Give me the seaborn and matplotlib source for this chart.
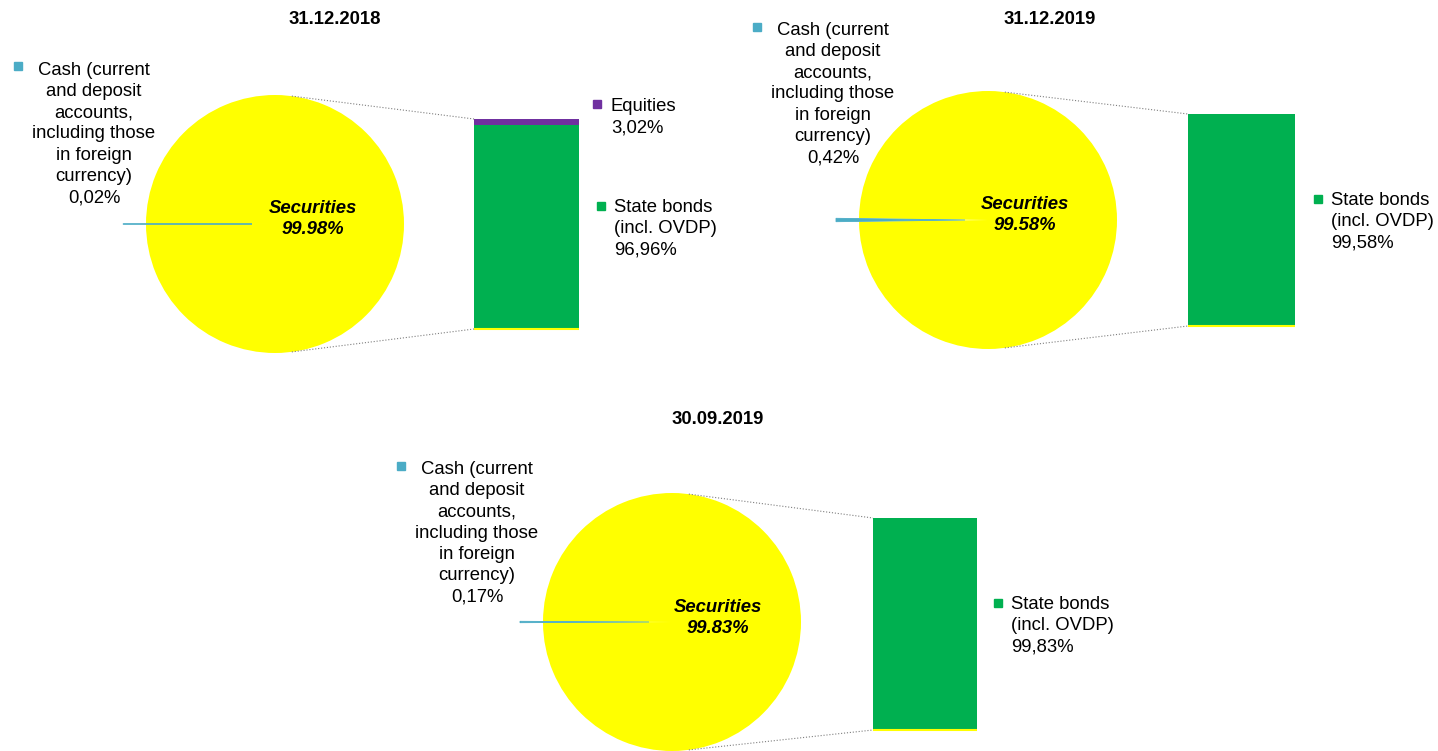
import numpy as np
import matplotlib
matplotlib.use("Agg")
import matplotlib.pyplot as plt
import seaborn as sns

sns.set_theme(style="white")
plt.rcParams['font.family'] = ['Liberation Sans', 'DejaVu Sans']
plt.rcParams['text.color'] = 'black'

# data
dates = ["31.12.2018", "31.12.2019", "30.09.2019"]
cash = [0.02, 0.42, 0.17]
securities = [99.98, 99.58, 99.83]
state_bonds = [96.96, 99.58, 99.83]
equities = [3.02, 0.0, 0.0]

cash_label = "Cash (current\nand deposit\naccounts,\nincluding those\nin foreign\ncurrency)"
bonds_label = "State bonds\n(incl. OVDP)"
equities_label = "Equities"

c_yellow = "#FFFF00"
c_cash = "#4BACC6"
c_bonds = "#00B050"
c_equities = "#7030A0"

# layout (pixel coords, y going down)
layout = [
    dict(title=(335, 20), pie=(275, 224), bar=(474, 579, 119, 329),
         cash_mk=(18, 66), cash_txt=(94, 134), sec=(313, 219),
         bonds_mk=(601, 206), eq_mk=(597, 104)),
    dict(title=(1050, 20), pie=(988, 220), bar=(1188, 1295, 114, 326),
         cash_mk=(757, 27), cash_txt=(833, 94), sec=(1025, 215),
         bonds_mk=(1318, 199), eq_mk=None),
    dict(title=(718, 420), pie=(672, 622), bar=(873, 977, 518, 730),
         cash_mk=(401, 466), cash_txt=(477, 533), sec=(718, 618),
         bonds_mk=(998, 603), eq_mk=None),
]
R = 129
FS = 13.3
LS = 1.33


def pct(v):
    return f"{v:.2f}%".replace(".", ",")


fig = plt.figure(figsize=(14.38, 7.51), dpi=100)
ax = fig.add_axes([0, 0, 1, 1])

for i, lay in enumerate(layout):
    cx, cy = lay["pie"]
    tot = securities[i] + cash[i]
    sec_ang = securities[i] / tot * 360
    cash_ang = cash[i] / tot * 360
    start = 180 - sec_ang - cash_ang / 2
    # explode is in data units here (pixels)
    wedges, _ = ax.pie([securities[i], cash[i]], colors=[c_yellow, c_cash],
                       center=(cx, cy), radius=R, startangle=start,
                       explode=[0, 23], frame=True,
                       wedgeprops=dict(linewidth=0))
    wedges[1].set_edgecolor(c_cash)
    wedges[1].set_linewidth(0.6)

    # title
    tx, ty = lay["title"]
    ax.text(tx, ty, dates[i], ha="center", va="center", fontsize=FS, fontweight="bold")

    # label inside pie
    sx, sy = lay["sec"]
    ax.text(sx, sy, f"Securities\n{securities[i]:.2f}%", ha="center", va="center",
            fontsize=FS, fontweight="bold", fontstyle="italic", linespacing=LS)

    # stacked bar
    x0, x1, ytop, ybot = lay["bar"]
    scale = (ybot - ytop) / (state_bonds[i] + equities[i])
    ax.bar((x0 + x1) / 2, -state_bonds[i] * scale, bottom=ybot, width=x1 - x0,
           color=c_bonds, linewidth=0)
    if equities[i] > 0:
        ax.bar((x0 + x1) / 2, -equities[i] * scale, bottom=ybot - state_bonds[i] * scale,
               width=x1 - x0, color=c_equities, linewidth=0)
    ax.plot([x0, x1], [ybot, ybot], color=c_yellow, lw=1.5, solid_capstyle="butt")

    # connector lines
    a = np.deg2rad(82.5)
    px = cx + R * np.cos(a)
    ax.plot([px, x0], [cy - R * np.sin(a), ytop], color="#7f7f7f", lw=0.8, ls=":")
    ax.plot([px, x0], [cy + R * np.sin(a), ybot], color="#7f7f7f", lw=0.8, ls=":")

    # cash legend
    mx, my = lay["cash_mk"]
    ax.plot(mx, my, marker="s", ms=6, color=c_cash, ls="none")
    ctx, cty = lay["cash_txt"]
    ax.text(ctx, cty, f"{cash_label}\n{pct(cash[i])}", ha="center", va="center",
            fontsize=FS, linespacing=LS)

    # bonds legend
    bx, by = lay["bonds_mk"]
    ax.plot(bx, by, marker="s", ms=6, color=c_bonds, ls="none")
    ax.text(bx + 13, by - 7, f"{bonds_label}\n{pct(state_bonds[i])}", ha="left", va="top",
            fontsize=FS, linespacing=LS)

    if lay["eq_mk"] is not None and equities[i] > 0:
        ex, ey = lay["eq_mk"]
        ax.plot(ex, ey, marker="s", ms=6, color=c_equities, ls="none")
        ax.text(ex + 14, ey - 6, f"{equities_label}\n{pct(equities[i])}", ha="left", va="top",
                fontsize=FS, linespacing=LS)

ax.set_xlim(0, 1438)
ax.set_ylim(751, 0)
ax.set_aspect("auto")
ax.axis("off")

fig.savefig("out.png", dpi=100)
